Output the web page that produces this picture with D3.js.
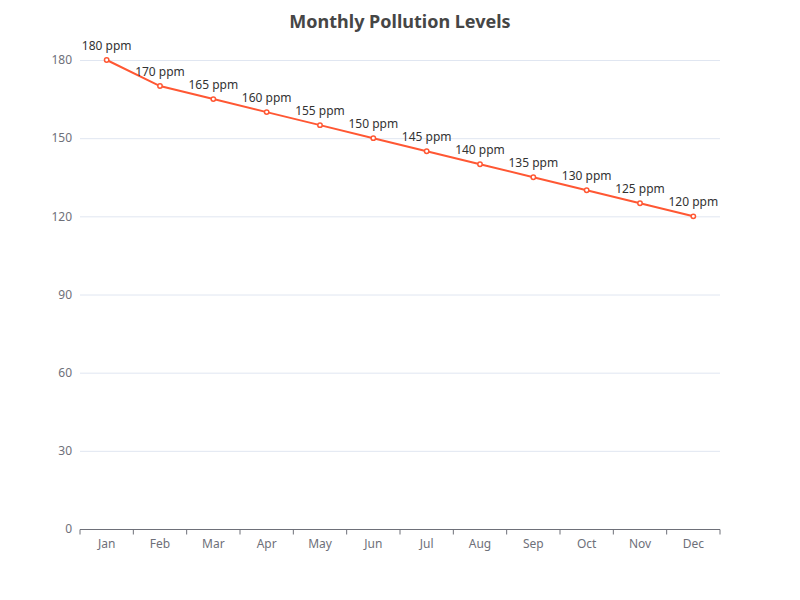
<!DOCTYPE html>
<html><head><meta charset="utf-8">
<script src="https://cdn.jsdelivr.net/npm/d3@7"></script>
<style>body{margin:0;background:#fff;font-family:"Microsoft YaHei","Noto Sans",sans-serif;}</style>
</head><body>
<svg id="chart" width="800" height="600"></svg>
<script>
var months = ["Jan","Feb","Mar","Apr","May","Jun","Jul","Aug","Sep","Oct","Nov","Dec"];
var pollution = [180,170,165,160,155,150,145,140,135,130,125,120];
var yTicks = [0,30,60,90,120,150,180];

var svg = d3.select("#chart");
var plotLeft = 80, plotRight = 720, plotTop = 60, plotBottom = 529;

var x = d3.scaleBand().domain(months).range([plotLeft, plotRight]);
var y = d3.scaleLinear().domain([0, 180]).range([plotBottom, plotTop]);

svg.append("text").attr("x", 400).attr("y", 28).attr("text-anchor", "middle")
  .style("font-size", "18px").style("font-weight", "bold").style("fill", "#464646")
  .text("Monthly Pollution Levels");

// grid
svg.append("g").selectAll("line").data(yTicks.slice(1)).enter().append("line")
  .attr("x1", plotLeft).attr("x2", plotRight)
  .attr("y1", function(d){return y(d)+0.5;}).attr("y2", function(d){return y(d)+0.5;})
  .attr("stroke", "#E0E6F1");

// y labels
svg.append("g").selectAll("text").data(yTicks).enter().append("text")
  .attr("x", plotLeft - 8).attr("y", function(d){return y(d);}).attr("dy", "0.35em")
  .attr("text-anchor", "end").style("font-size", "12px").style("fill", "#6E7079")
  .text(function(d){return d;});

// x axis
var xa = svg.append("g").attr("transform", "translate(0," + (plotBottom + 0.5) + ")");
xa.append("line").attr("x1", plotLeft).attr("x2", plotRight).attr("stroke", "#6E7079");
var bounds = months.map(function(m){return x(m);}).concat([plotRight]);
xa.selectAll("line.tick").data(bounds).enter().append("line").classed("tick", true)
  .attr("x1", function(d){return d;}).attr("x2", function(d){return d;})
  .attr("y1", 0).attr("y2", 5).attr("stroke", "#6E7079");
xa.selectAll("text").data(months).enter().append("text")
  .attr("x", function(d){return x(d) + x.bandwidth()/2;}).attr("y", 18)
  .attr("text-anchor", "middle").style("font-size", "12px").style("fill", "#6E7079")
  .text(function(d){return d;});

var cx = function(d, i){return x(months[i]) + x.bandwidth()/2;};
var line = d3.line().x(cx).y(function(d){return y(d);});
svg.append("path").datum(pollution).attr("d", line)
  .attr("fill", "none").attr("stroke", "#FF5733").attr("stroke-width", 2);

svg.append("g").selectAll("circle").data(pollution).enter().append("circle")
  .attr("cx", cx).attr("cy", function(d){return y(d);}).attr("r", 2.2)
  .attr("fill", "#fff").attr("stroke", "#FF5733").attr("stroke-width", 1.5);

svg.append("g").selectAll("text").data(pollution).enter().append("text")
  .attr("x", cx).attr("y", function(d){return y(d) - 10;})
  .attr("text-anchor", "middle").style("font-size", "12px").style("fill", "#333")
  .text(function(d){return d + " ppm";});
</script>
</body></html>
